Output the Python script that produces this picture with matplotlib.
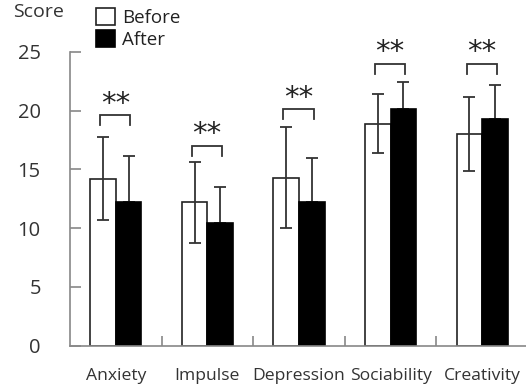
import numpy as np
import matplotlib
matplotlib.use("Agg")
import matplotlib.pyplot as plt
from matplotlib.patches import Patch

plt.rcParams['font.family'] = ['Open Sans', 'DejaVu Sans']

categories = ["Anxiety", "Impulse", "Depression", "Sociability", "Creativity"]
before = [14.2, 12.2, 14.3, 18.9, 18.0]
before_sd = [3.55, 3.45, 4.3, 2.5, 3.15]
after = [12.2, 10.4, 12.2, 20.1, 19.25]
after_sd = [3.95, 3.1, 3.8, 2.35, 2.9]
bracket_top = [19.6, 17.0, 20.1, 24.0, 24.0]

fig = plt.figure(figsize=(5.26, 3.87), dpi=100)
ax = fig.add_axes([0.133, 0.107, 0.871, 0.759])

x = np.arange(len(categories))
w = 0.28
ax.bar(x - w / 2, before, w, color="white", edgecolor="#222222", linewidth=1.2, zorder=2)
ax.bar(x + w / 2, after, w, color="black", edgecolor="black", linewidth=1.2, zorder=2)

ax.errorbar(x - w / 2, before, yerr=before_sd, fmt="none", ecolor="#333333",
            elinewidth=1.3, capsize=4, capthick=1.3, zorder=3)
ax.errorbar(x + w / 2, after, yerr=[np.zeros(len(after)), after_sd], fmt="none",
            ecolor="#333333", elinewidth=1.3, capsize=4, capthick=1.3, zorder=1)

# significance brackets
for i in range(len(categories)):
    x0 = x[i] - w / 2 - 0.03
    x1 = x[i] + w / 2 + 0.02
    top = bracket_top[i]
    ax.plot([x0, x0, x1, x1], [top - 0.85, top, top, top - 0.85],
            color="#333333", lw=1.3, solid_joinstyle="miter")
    ax.text((x0 + x1) / 2, top + 0.3, "**", ha="center", va="baseline",
            fontsize=21, color="#222222", family="DejaVu Sans")

ax.set_xlim(-0.5, 4.5)
ax.set_ylim(0, 25)
ax.set_yticks([0, 5, 10, 15, 20, 25])
ax.set_xticks(np.arange(0.5, 4.5, 1))
ax.set_xticklabels([])
ax.set_xticks(x, categories, minor=True)
ax.tick_params(axis="x", which="minor", length=0, pad=16, labelsize=12.6, labelcolor="#333333")
ax.tick_params(axis="x", which="major", direction="in", length=7, color="#888888", width=1.2)
ax.tick_params(axis="y", direction="in", length=8, color="#888888", width=1.2,
               pad=21, labelsize=14.5, labelcolor="#333333")

for s in ["top", "right"]:
    ax.spines[s].set_visible(False)
for s in ["left", "bottom"]:
    ax.spines[s].set_color("#888888")
    ax.spines[s].set_linewidth(1.2)

fig.text(0.025, 0.968, "Score", fontsize=14, color="#333333", va="center")

handles = [Patch(facecolor="white", edgecolor="#222222", linewidth=1.2),
           Patch(facecolor="black", edgecolor="black", linewidth=1.2)]
ax.legend(handles, ["Before", "After"], loc="upper left",
          bbox_to_anchor=(0.158, 1.012), bbox_transform=fig.transFigure,
          frameon=False, handlelength=1.0, handleheight=1.0, handletextpad=0.4,
          labelspacing=0.15, fontsize=13.5, borderpad=0.2, labelcolor="#222222")

fig.savefig("out.png", dpi=100)
